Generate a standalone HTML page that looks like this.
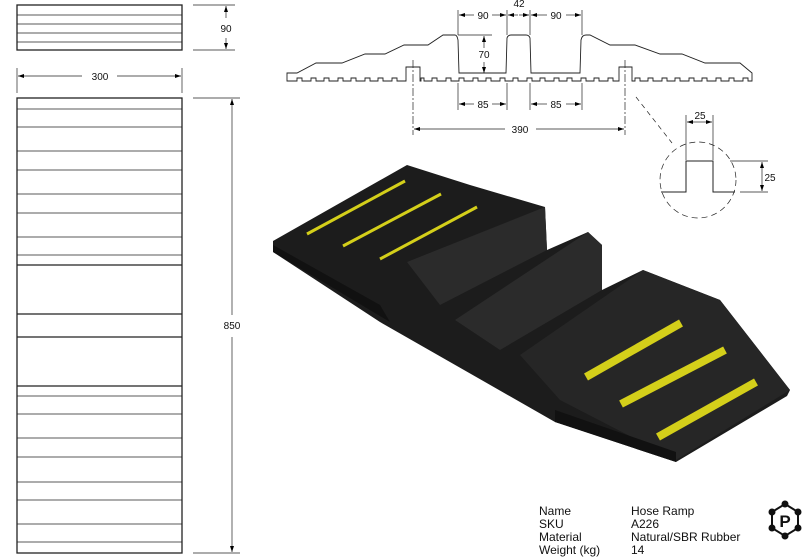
<!DOCTYPE html>
<html><head><meta charset="utf-8"><style>
html,body{margin:0;padding:0;background:#fff;}
svg{display:block;font-family:"Liberation Sans",Arial,sans-serif;}
</style></head><body>
<svg width="809" height="560" viewBox="0 0 809 560" xmlns="http://www.w3.org/2000/svg">
<defs>
<marker id="a" markerWidth="6" markerHeight="4" refX="6" refY="2" orient="auto" markerUnits="userSpaceOnUse"><path d="M0,0 L6,2 L0,4 z" fill="#000"/></marker>
</defs>
<g stroke="#222" fill="none">
<rect x="17" y="5" width="165" height="45" stroke-width="1.3"/>
<g stroke-width="0.8"><line x1="17" y1="15" x2="182" y2="15"/><line x1="17" y1="24" x2="182" y2="24"/><line x1="17" y1="33" x2="182" y2="33"/><line x1="17" y1="42" x2="182" y2="42"/></g>
<g stroke-width="0.7"><line x1="193" y1="5" x2="235" y2="5"/><line x1="193" y1="50" x2="235" y2="50"/>
<line x1="226" y1="18" x2="226" y2="6" marker-end="url(#a)"/><line x1="226" y1="38" x2="226" y2="49" marker-end="url(#a)"/>
<line x1="17" y1="68" x2="17" y2="93"/><line x1="182" y1="68" x2="182" y2="93"/>
<line x1="82" y1="76" x2="18" y2="76" marker-end="url(#a)"/><line x1="117" y1="76" x2="181" y2="76" marker-end="url(#a)"/>
<line x1="193" y1="98" x2="240" y2="98"/><line x1="193" y1="553" x2="240" y2="553"/>
<line x1="232" y1="315" x2="232" y2="99" marker-end="url(#a)"/><line x1="232" y1="337" x2="232" y2="552" marker-end="url(#a)"/></g>
<rect x="17" y="98" width="165" height="455" stroke-width="1.3"/>
<g stroke-width="0.8">
<line x1="17" y1="109" x2="182" y2="109"/><line x1="17" y1="127" x2="182" y2="127"/><line x1="17" y1="151" x2="182" y2="151"/><line x1="17" y1="170" x2="182" y2="170"/><line x1="17" y1="194" x2="182" y2="194"/><line x1="17" y1="213" x2="182" y2="213"/><line x1="17" y1="237" x2="182" y2="237"/><line x1="17" y1="255" x2="182" y2="255"/>
<line x1="17" y1="396" x2="182" y2="396"/><line x1="17" y1="414" x2="182" y2="414"/><line x1="17" y1="438" x2="182" y2="438"/><line x1="17" y1="457" x2="182" y2="457"/><line x1="17" y1="482" x2="182" y2="482"/><line x1="17" y1="500" x2="182" y2="500"/><line x1="17" y1="524" x2="182" y2="524"/><line x1="17" y1="542" x2="182" y2="542"/></g>
<g stroke-width="1.3"><line x1="17" y1="265" x2="182" y2="265"/><line x1="17" y1="314" x2="182" y2="314"/><line x1="17" y1="337" x2="182" y2="337"/><line x1="17" y1="386" x2="182" y2="386"/></g>
<!-- profile -->
<path stroke-width="0.9" fill="#fff" d="M287,81 L287,73 L297,73 L316,63 L342,63 L365,54 L385,54 L404,45 L428,45 L443,35 L455,35 Q457,35 458,40 L459,73 L506,73 L507,38 Q508,35 511,35 L526,35 Q529,35 530,38 L531,73 L580,73 L581,40 Q582,35 586,35 L590,35 L610,45 L635,45 L660,54 L682,54 L705,63 L740,63 L752,73 L752,81
L748,81 L748,78 L743,78 L743,81 L734,81 L734,78 L729,78 L729,81 L721,81 L721,78 L716,78 L716,81 L707,81 L707,78 L702,78 L702,81 L694,81 L694,78 L689,78 L689,81 L680,81 L680,78 L675,78 L675,81 L667,81 L667,78 L662,78 L662,81 L653,81 L653,78 L648,78 L648,81 L640,81 L640,78 L635,78 L635,81
L632,81 L632,67 L619,67 L619,81
L613,81 L613,78 L608,78 L608,81 L599,81 L599,78 L594,78 L594,81 L586,81 L586,78 L581,78 L581,81 L572,81 L572,78 L567,78 L567,81 L559,81 L559,78 L554,78 L554,81 L545,81 L545,78 L540,78 L540,81 L532,81 L532,78 L527,78 L527,81 L518,81 L518,78 L513,78 L513,81 L505,81 L505,78 L500,78 L500,81 L491,81 L491,78 L486,78 L486,81 L478,81 L478,78 L473,78 L473,81 L464,81 L464,78 L459,78 L459,81 L451,81 L451,78 L446,78 L446,81 L437,81 L437,78 L432,78 L432,81 L424,81 L424,78 L421,78 L421,81
L420,81 L420,67 L406,67 L406,81
L397,81 L397,78 L392,78 L392,81 L383,81 L383,78 L378,78 L378,81 L370,81 L370,78 L365,78 L365,81 L356,81 L356,78 L351,78 L351,81 L343,81 L343,78 L338,78 L338,81 L329,81 L329,78 L324,78 L324,81 L316,81 L316,78 L311,78 L311,81 L302,81 L302,78 L297,78 L297,81 Z"/>
<g stroke-width="0.7">
<line x1="458" y1="10" x2="458" y2="35"/><line x1="507" y1="10" x2="507" y2="35"/><line x1="530" y1="10" x2="530" y2="35"/><line x1="582" y1="10" x2="582" y2="35"/>
<line x1="474" y1="15" x2="459" y2="15" marker-end="url(#a)"/><line x1="492" y1="15" x2="506" y2="15" marker-end="url(#a)"/>
<line x1="518" y1="15" x2="508" y2="15" marker-end="url(#a)"/><line x1="519" y1="15" x2="529" y2="15" marker-end="url(#a)"/>
<line x1="547" y1="15" x2="531" y2="15" marker-end="url(#a)"/><line x1="566" y1="15" x2="581" y2="15" marker-end="url(#a)"/>
<line x1="458" y1="35" x2="492" y2="35"/>
<line x1="484" y1="48" x2="484" y2="36" marker-end="url(#a)"/><line x1="484" y1="62" x2="484" y2="73" marker-end="url(#a)"/>
<line x1="458" y1="83" x2="458" y2="110"/><line x1="507" y1="83" x2="507" y2="110"/><line x1="530" y1="83" x2="530" y2="110"/><line x1="582" y1="83" x2="582" y2="110"/>
<line x1="474" y1="104" x2="459" y2="104" marker-end="url(#a)"/><line x1="492" y1="104" x2="506" y2="104" marker-end="url(#a)"/>
<line x1="547" y1="104" x2="531" y2="104" marker-end="url(#a)"/><line x1="566" y1="104" x2="581" y2="104" marker-end="url(#a)"/>
<line x1="413" y1="60" x2="413" y2="135" stroke-dasharray="8,2,2,2"/><line x1="625" y1="60" x2="625" y2="135" stroke-dasharray="8,2,2,2"/>
<line x1="505" y1="129" x2="414" y2="129" marker-end="url(#a)"/><line x1="536" y1="129" x2="624" y2="129" marker-end="url(#a)"/>
<line x1="636" y1="97" x2="672" y2="143" stroke-dasharray="5,4"/>
<circle cx="698" cy="180" r="38" stroke-dasharray="6,4"/>
<line x1="686" y1="115" x2="686" y2="160"/><line x1="713" y1="115" x2="713" y2="160"/>
<line x1="700" y1="122" x2="687" y2="122" marker-end="url(#a)"/><line x1="700" y1="122" x2="712" y2="122" marker-end="url(#a)"/>
<line x1="730" y1="161" x2="768" y2="161"/><line x1="740" y1="192" x2="768" y2="192"/>
<line x1="762" y1="176" x2="762" y2="162" marker-end="url(#a)"/><line x1="762" y1="176" x2="762" y2="191" marker-end="url(#a)"/>
</g>
<path stroke-width="1" d="M661,192 L686,192 L686,161 L713,161 L713,192 L735,192"/>
</g>
<g font-size="10" fill="#111" text-anchor="middle">
<text x="226" y="32">90</text><text x="100" y="80">300</text><text x="232" y="329">850</text>
<text x="483" y="19">90</text><text x="519" y="7">42</text><text x="556" y="19">90</text>
<text x="484" y="58">70</text><text x="483" y="108">85</text><text x="556" y="108">85</text>
<text x="520" y="133">390</text><text x="700" y="119">25</text><text x="770" y="181">25</text>
</g>
<!-- 3D ramp -->
<polygon fill="#1c1c1c" points="273,241 407,165 470,185 545,207 547,250 588,232 602,245 602,290 643,270 720,300 790,390 787,396 676,462 555,422 380,322 273,252"/>
<polygon fill="#2b2b2b" points="407,262 545,207 547,250 440,305"/>
<polygon fill="#2b2b2b" points="455,320 588,232 602,245 602,290 500,350"/>
<polygon fill="#262626" points="520,355 643,270 720,300 790,390 676,460 560,400"/>
<polygon fill="#111" points="273,245 380,305 390,322 273,252"/>
<polygon fill="#111" points="555,410 676,452 676,462 555,422"/>
<g stroke="#d4cf1a" stroke-linecap="butt">
<line x1="307" y1="234" x2="405" y2="181" stroke-width="3"/>
<line x1="343" y1="246" x2="441" y2="194" stroke-width="3"/>
<line x1="380" y1="259" x2="477" y2="207" stroke-width="3"/>
<line x1="586" y1="377" x2="681" y2="323" stroke-width="8"/>
<line x1="621" y1="404" x2="725" y2="350" stroke-width="8"/>
<line x1="658" y1="437" x2="756" y2="382" stroke-width="8"/>
</g>
<g font-size="12" fill="#111">
<text x="539" y="515">Name</text><text x="631" y="515">Hose Ramp</text>
<text x="539" y="528">SKU</text><text x="631" y="528">A226</text>
<text x="539" y="541">Material</text><text x="631" y="541">Natural/SBR Rubber</text>
<text x="539" y="554">Weight (kg)</text><text x="631" y="554">14</text>
</g>
<g fill="#111" stroke="#111">
<polygon points="785,504 798,512 798,528 785,536 772,528 772,512" fill="none" stroke-width="2"/>
<circle cx="785" cy="504" r="3"/><circle cx="798" cy="512" r="3"/><circle cx="798" cy="528" r="3"/><circle cx="785" cy="536" r="3"/><circle cx="772" cy="528" r="3"/><circle cx="772" cy="512" r="3"/>
<circle cx="785" cy="520" r="10" fill="#fff" stroke="none"/>
<text x="785" y="527" font-size="17" font-weight="bold" text-anchor="middle" stroke="none">P</text>
</g>
</svg>
</body></html>
